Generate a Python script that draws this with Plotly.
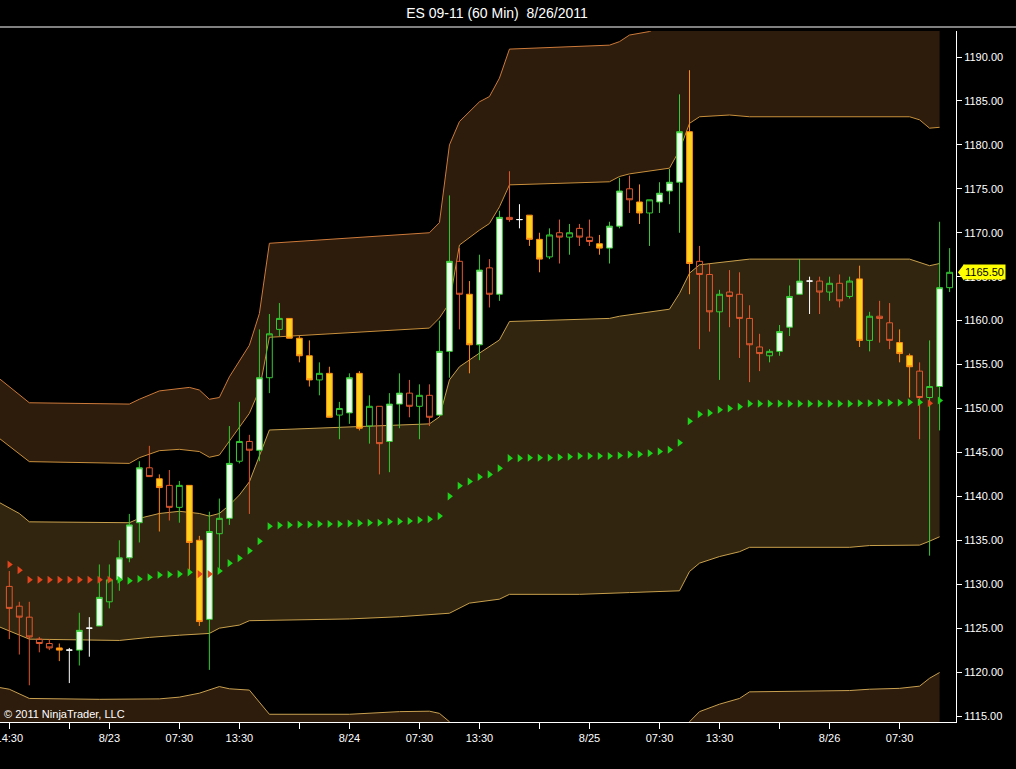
import plotly.graph_objects as go

# ---------------- data ----------------
bar_open = [1129.75, 1127.5, 1126.25, 1123.75, 1123.25, 1122.75, 1122.5, 1122.5, 1125.0, 1125.25,
            1128.0, 1130.5, 1133.0, 1137.0, 1143.25, 1142.0, 1141.25, 1138.75, 1141.25, 1135.0,
            1126.0, 1135.75, 1137.5, 1144.0, 1146.25, 1145.25, 1153.5, 1159.0, 1160.25, 1158.0,
            1156.0, 1153.25, 1154.0, 1149.25, 1149.5, 1154.0, 1148.0, 1150.25, 1146.25, 1150.5,
            1151.75, 1150.25, 1151.5, 1149.25, 1156.5, 1166.75, 1163.0, 1157.25, 1166.0, 1163.0,
            1171.75, 1171.5, 1172.0, 1169.25, 1167.25, 1170.0, 1169.5, 1170.5, 1169.5, 1168.75,
            1168.25, 1170.75, 1175.0, 1173.5, 1172.25, 1173.5, 1174.75, 1175.75, 1181.5, 1166.75,
            1165.25, 1161.0, 1163.25, 1163.0, 1160.25, 1157.0, 1156.0, 1156.5, 1159.25, 1163.0,
            1164.5, 1164.5, 1163.25, 1164.25, 1162.75, 1164.75, 1157.75, 1160.5, 1159.75, 1157.5,
            1156.0, 1154.25, 1151.25, 1152.5, 1163.75]
bar_high = [1131.5, 1128.0, 1128.0, 1124.0, 1123.75, 1123.25, 1122.75, 1126.75, 1126.25, 1132.25,
            1132.25, 1135.0, 1138.0, 1144.0, 1145.75, 1142.5, 1143.0, 1141.75, 1141.25, 1135.5,
            1138.25, 1139.75, 1148.0, 1150.75, 1147.0, 1159.0, 1160.75, 1162.0, 1160.25, 1158.25,
            1157.75, 1155.25, 1154.75, 1150.75, 1154.0, 1154.25, 1151.5, 1150.25, 1151.75, 1154.0,
            1153.25, 1152.75, 1152.75, 1160.0, 1174.25, 1168.25, 1164.5, 1167.5, 1167.0, 1172.5,
            1177.0, 1173.25, 1172.0, 1170.0, 1170.5, 1171.5, 1171.0, 1171.0, 1171.5, 1169.75,
            1171.25, 1176.25, 1176.5, 1175.5, 1173.75, 1175.75, 1177.25, 1185.75, 1188.5, 1168.5,
            1166.5, 1163.5, 1165.75, 1165.5, 1161.75, 1158.5, 1156.75, 1159.5, 1164.0, 1167.0,
            1165.0, 1165.0, 1165.0, 1165.25, 1165.0, 1166.25, 1161.0, 1162.25, 1162.0, 1159.0,
            1156.25, 1155.25, 1157.75, 1171.25, 1168.25]
bar_low = [1123.75, 1122.0, 1118.5, 1122.25, 1122.5, 1121.25, 1118.75, 1120.75, 1121.75, 1125.25,
           1127.25, 1129.25, 1132.5, 1134.75, 1142.25, 1136.0, 1137.25, 1137.0, 1131.5, 1125.25,
           1120.25, 1131.75, 1136.75, 1143.75, 1138.0, 1144.0, 1151.75, 1158.25, 1158.0, 1155.25,
           1152.5, 1151.5, 1149.0, 1146.5, 1148.25, 1147.5, 1146.0, 1142.5, 1142.75, 1147.75,
           1149.0, 1146.5, 1148.0, 1149.25, 1153.5, 1159.0, 1154.0, 1155.5, 1161.5, 1162.25,
           1171.25, 1170.5, 1168.5, 1165.5, 1167.0, 1166.5, 1167.5, 1168.5, 1168.5, 1167.5,
           1166.5, 1170.5, 1172.25, 1171.0, 1168.5, 1172.25, 1173.25, 1170.0, 1163.0, 1156.75,
           1158.75, 1153.25, 1159.25, 1155.75, 1153.0, 1154.25, 1155.25, 1156.0, 1158.25, 1163.0,
           1160.75, 1160.75, 1162.25, 1161.5, 1162.5, 1157.0, 1156.5, 1157.5, 1156.75, 1155.25,
           1151.25, 1146.5, 1133.25, 1147.5, 1163.25]
bar_close = [1127.25, 1126.25, 1124.0, 1123.25, 1122.75, 1122.5, 1122.5, 1124.75, 1125.0, 1128.5,
             1130.5, 1133.0, 1136.75, 1143.25, 1142.25, 1141.0, 1138.75, 1141.25, 1134.75, 1125.75,
             1136.0, 1137.5, 1143.75, 1146.25, 1145.25, 1153.5, 1158.5, 1160.25, 1158.0, 1156.0,
             1153.25, 1154.0, 1149.0, 1150.0, 1153.5, 1147.75, 1150.25, 1146.0, 1150.5, 1151.75,
             1150.25, 1151.5, 1149.0, 1156.5, 1166.75, 1163.0, 1157.25, 1165.75, 1163.0, 1171.75,
             1171.5, 1171.5, 1169.25, 1167.0, 1169.75, 1169.5, 1170.0, 1169.5, 1169.0, 1168.25,
             1170.75, 1174.75, 1173.75, 1172.25, 1173.75, 1174.5, 1175.75, 1181.5, 1166.5, 1165.25,
             1161.0, 1163.0, 1162.75, 1160.25, 1157.25, 1156.25, 1156.5, 1158.75, 1162.75, 1164.5,
             1164.5, 1163.25, 1164.25, 1162.25, 1164.5, 1157.75, 1160.5, 1160.25, 1157.75, 1156.25,
             1154.75, 1151.25, 1152.5, 1163.75, 1165.5]

# bars flagged by the bar-colouring indicator (filled bodies)
strong_bars = [5, 7, 9, 11, 12, 13, 15, 18, 19, 20, 22, 25, 28, 29, 30, 32, 34, 35, 38, 39,
               43, 44, 46, 47, 49, 52, 53, 59, 60, 61, 63, 65, 66, 67, 68, 77, 78, 79, 85,
               89, 90, 93]

# midline (triangle markers), bars 0..93
mid_line = [1132.25, 1131.6, 1130.5, 1130.5, 1130.5, 1130.5, 1130.5, 1130.5, 1130.5, 1130.5,
            1130.5, 1130.5, 1130.4, 1130.6, 1130.8, 1131.05, 1131.1, 1131.15, 1131.35, 1131.15,
            1131.15, 1131.5, 1132.4, 1132.95, 1133.8, 1134.9, 1136.6, 1136.7, 1136.75, 1136.8,
            1136.8, 1136.85, 1136.85, 1136.85, 1136.9, 1136.95, 1137.0, 1137.0, 1137.1, 1137.15,
            1137.2, 1137.3, 1137.4, 1137.75, 1140.0, 1141.2, 1141.7, 1142.2, 1142.5, 1143.2,
            1144.35, 1144.35, 1144.4, 1144.4, 1144.4, 1144.45, 1144.5, 1144.6, 1144.6, 1144.6,
            1144.6, 1144.65, 1144.75, 1144.8, 1144.9, 1145.1, 1145.3, 1146.1, 1148.55, 1149.35,
            1149.5, 1149.85, 1150.0, 1150.2, 1150.55, 1150.55, 1150.55, 1150.55, 1150.55, 1150.55,
            1150.55, 1150.55, 1150.55, 1150.55, 1150.55, 1150.6, 1150.6, 1150.65, 1150.65, 1150.65,
            1150.7, 1150.7, 1150.6, 1150.9]
mid_bear_bars = [0, 1, 2, 3, 4, 5, 6, 7, 8, 9, 10, 19, 20, 92]

# band lines: vertices (bar index, price)
ub_top_idx = [-1, 2, 12, 13, 15, 18, 19, 20, 21, 22, 24, 25, 26, 42, 43, 44, 45, 47, 48, 49,
              50, 60, 61, 62, 64, 66, 68, 93]
ub_top_val = [1153.4, 1150.65, 1150.5, 1151.05, 1152.0, 1152.4, 1152.1, 1151.05, 1151.25, 1153.6,
              1157.2, 1160.8, 1168.8, 1170.0, 1171.15, 1180.0, 1182.65, 1184.9, 1185.5, 1187.6,
              1190.9, 1191.35, 1191.75, 1192.5, 1192.9, 1194.0, 1197.5, 1198.0]
ub_bot_idx = [-1, 2, 12, 13, 15, 17, 19, 20, 21, 23, 24, 25, 26, 42, 43, 44, 45, 47, 48, 49,
              50, 60, 61, 62, 66, 67, 68, 69, 72, 74, 90, 91, 92, 93]
ub_bot_val = [1146.6, 1143.95, 1143.75, 1144.4, 1145.2, 1145.35, 1145.1, 1144.45, 1144.7, 1147.95,
              1149.45, 1152.1, 1158.1, 1159.15, 1160.3, 1162.0, 1168.6, 1170.3, 1171.05, 1172.95,
              1175.45, 1175.8, 1176.4, 1176.7, 1177.35, 1179.4, 1182.45, 1183.2, 1183.4, 1183.2,
              1183.2, 1182.85, 1181.9, 1182.0]
mb_top_idx = [-1, 1, 2, 12, 13, 15, 17, 19, 20, 21, 22, 23, 24, 26, 42, 43, 44, 45, 47, 49,
              50, 60, 61, 66, 67, 68, 69, 74, 90, 92, 93]
mb_top_val = [1139.3, 1138.05, 1137.1, 1137.0, 1137.5, 1138.05, 1138.3, 1138.05, 1137.75, 1138.05,
              1139.0, 1140.15, 1141.65, 1147.55, 1148.25, 1149.05, 1153.25, 1154.75, 1156.3, 1157.8,
              1159.9, 1160.25, 1160.5, 1161.3, 1163.1, 1165.4, 1166.35, 1167.0, 1167.0, 1166.25,
              1166.5]
mb_bot_idx = [-1, 1, 2, 11, 14, 17, 19, 20, 21, 23, 24, 29, 34, 39, 44, 46, 49, 50, 57, 62,
              67, 68, 69, 71, 73, 74, 84, 86, 91, 92, 93]
mb_bot_val = [1125.15, 1124.2, 1123.75, 1123.6, 1123.95, 1124.2, 1124.35, 1124.4, 1125.0, 1125.35,
              1125.85, 1125.95, 1126.05, 1126.3, 1126.7, 1127.85, 1128.3, 1128.85, 1128.85, 1129.05,
              1129.25, 1131.45, 1132.4, 1133.15, 1133.7, 1134.2, 1134.2, 1134.4, 1134.45, 1134.9,
              1135.4]
lb_top_idx = [-1, 0, 2, 9, 15, 17, 19, 21, 22, 24, 26, 34, 39, 42, 43, 44, 45, 67, 68, 69,
              71, 73, 74, 84, 86, 89, 91, 92, 93]
lb_top_val = [1118.25, 1118.05, 1117.0, 1116.9, 1116.95, 1117.15, 1117.6, 1118.35, 1118.1, 1117.95,
              1115.2, 1115.2, 1115.5, 1115.55, 1115.3, 1114.35, 1110.5, 1111.5, 1114.35, 1115.5,
              1116.35, 1117.0, 1117.75, 1117.9, 1118.05, 1118.15, 1118.4, 1119.3, 1119.95]
lb_bot_idx = [-1, 93]
lb_bot_val = [1105.0, 1108.0]

tick_bars = [0, 6, 10, 17, 23, 29, 34, 41, 47, 53, 58, 65, 71, 77, 82, 89]
tick_labels = ["14:30", "", "8/23", "07:30", "13:30", "", "8/24", "07:30", "13:30", "",
               "8/25", "07:30", "13:30", "", "8/26", "07:30"]
price_ticks = [1115, 1120, 1125, 1130, 1135, 1140, 1145, 1150, 1155, 1160, 1165, 1170,
               1175, 1180, 1185, 1190]
last_price = 1165.50
chart_title = "ES 09-11 (60 Min)\u00a0 8/26/2011"
copyright_text = "\u00a9 2011 NinjaTrader, LLC"

# ---------------- styling ----------------
FONT = "Arial, Liberation Sans, sans-serif"
OUTER_FILL = "#2d1b0c"
MID_FILL = "#31250f"
GREEN = "#33cc33"
RED = "#e2582e"
X_RANGE = [-0.93, 94.64]
Y_RANGE = [1114.32, 1192.96]

fig = go.Figure()


def band(lo_x, lo_y, hi_x, hi_y, fill, lo_color, hi_color):
    fig.add_trace(go.Scatter(x=lo_x, y=lo_y, mode="lines",
                             line=dict(color=lo_color, width=1),
                             hoverinfo="skip", showlegend=False))
    fig.add_trace(go.Scatter(x=hi_x, y=hi_y, mode="lines", fill="tonexty",
                             fillcolor=fill, line=dict(color=hi_color, width=1),
                             hoverinfo="skip", showlegend=False))


# bands on the base axes (drawn underneath)
band(lb_bot_idx, lb_bot_val, lb_top_idx, lb_top_val, OUTER_FILL, "#c8a050", "#c8a050")
band(mb_bot_idx, mb_bot_val, mb_top_idx, mb_top_val, MID_FILL, "#c8a04c", "#c8a04c")
band(ub_bot_idx, ub_bot_val, ub_top_idx, ub_top_val, OUTER_FILL, "#c8903c", "#cc7a3a")

# candles split into style groups, on overlay axes so they sit above the fills
n = len(bar_open)
groups = {"up_strong": [], "up_plain": [], "dn_strong": [], "dn_plain": [], "doji": []}
for i in range(n):
    o, c = bar_open[i], bar_close[i]
    s = i in strong_bars
    if o == c:
        groups["doji"].append(i)
    elif c > o:
        groups["up_strong" if s else "up_plain"].append(i)
    else:
        groups["dn_strong" if s else "dn_plain"].append(i)

styles = {
    "up_strong": (GREEN, "#eefcee"),
    "up_plain": (GREEN, "rgba(0,0,0,0)"),
    "dn_strong": ("#ff8a10", "#ffd21e"),
    "dn_plain": (RED, "rgba(0,0,0,0)"),
    "doji": ("#ffffff", "#ffffff"),
}
for name, ids in groups.items():
    lc, fc = styles[name]
    side = dict(line=dict(color=lc, width=1), fillcolor=fc)
    fig.add_trace(go.Candlestick(
        x=ids,
        open=[bar_open[i] for i in ids], high=[bar_high[i] for i in ids],
        low=[bar_low[i] for i in ids], close=[bar_close[i] for i in ids],
        increasing=side, decreasing=side, whiskerwidth=0,
        xaxis="x2", yaxis="y2",
        hoverinfo="skip", showlegend=False))

# midline triangles
mid_x = list(range(len(mid_line)))
fig.add_trace(go.Scatter(
    x=mid_x, y=mid_line, mode="markers", xaxis="x2", yaxis="y2",
    marker=dict(symbol="triangle-right", size=7,
                color=["#e2441e" if i in mid_bear_bars else "#1ed21e" for i in mid_x],
                line=dict(width=0)),
    hoverinfo="skip", showlegend=False))

W, H = 1016, 769
L, R, T, B = 0, 60, 31, 47
plot_w = W - L - R
plot_h = H - T - B

fig.update_layout(
    width=W, height=H,
    paper_bgcolor="black", plot_bgcolor="black",
    margin=dict(l=L, r=R, t=T, b=B, pad=0, autoexpand=False),
    showlegend=False,
    boxgap=0.42, boxgroupgap=0,
    title=dict(text=chart_title, x=497 / W, xanchor="center", xref="container",
               y=1 - 13 / H, yanchor="middle",
               font=dict(family=FONT, size=14, color="white")),
    xaxis=dict(range=X_RANGE, showgrid=False, zeroline=False, automargin=False,
               showline=True, linecolor="white", linewidth=1,
               ticks="outside", ticklen=6, tickcolor="white", tickwidth=1,
               tickmode="array", tickvals=tick_bars, ticktext=tick_labels,
               ticklabeloverflow="allow",
               tickfont=dict(family=FONT, size=11, color="white"),
               rangeslider=dict(visible=False), fixedrange=True),
    yaxis=dict(side="right", range=Y_RANGE, showgrid=False, zeroline=False, automargin=False,
               showline=True, linecolor="white", linewidth=1,
               ticks="outside", ticklen=5, tickcolor="white", tickwidth=1,
               tickmode="array", tickvals=price_ticks, tickformat=".2f",
               tickfont=dict(family=FONT, size=11, color="white"), fixedrange=True),
    xaxis2=dict(overlaying="x", range=X_RANGE, visible=False, showgrid=False,
                zeroline=False, automargin=False,
                rangeslider=dict(visible=False), fixedrange=True),
    yaxis2=dict(overlaying="y", side="right", range=Y_RANGE, visible=False,
                showgrid=False, zeroline=False, automargin=False, fixedrange=True),
    shapes=[
        dict(type="line", xref="paper", yref="paper", x0=0, x1=W / plot_w,
             y0=1 + 4 / plot_h, y1=1 + 4 / plot_h, line=dict(color="white", width=1)),
        dict(type="path", xref="paper", yref="y",
             path=f"M 1.002,{last_price} L 1.0085,{last_price + 0.95} "
                  f"L 1.0085,{last_price - 0.95} Z",
             fillcolor="#ffff00", line=dict(width=0)),
    ],
    annotations=[
        dict(text=copyright_text, xref="paper", yref="paper", x=0, y=0,
             xanchor="left", yanchor="bottom", xshift=2, showarrow=False,
             font=dict(family=FONT, size=11, color="white")),
        dict(text=f"{last_price:.2f}", xref="paper", yref="y", x=1, y=last_price,
             xanchor="left", yanchor="middle", xshift=7, showarrow=False,
             bgcolor="#ffff00", borderpad=1,
             font=dict(family=FONT, size=11, color="black")),
    ],
)

fig.write_html("out.html", config={"displayModeBar": False},
               post_script="document.body.style.margin='0';")
